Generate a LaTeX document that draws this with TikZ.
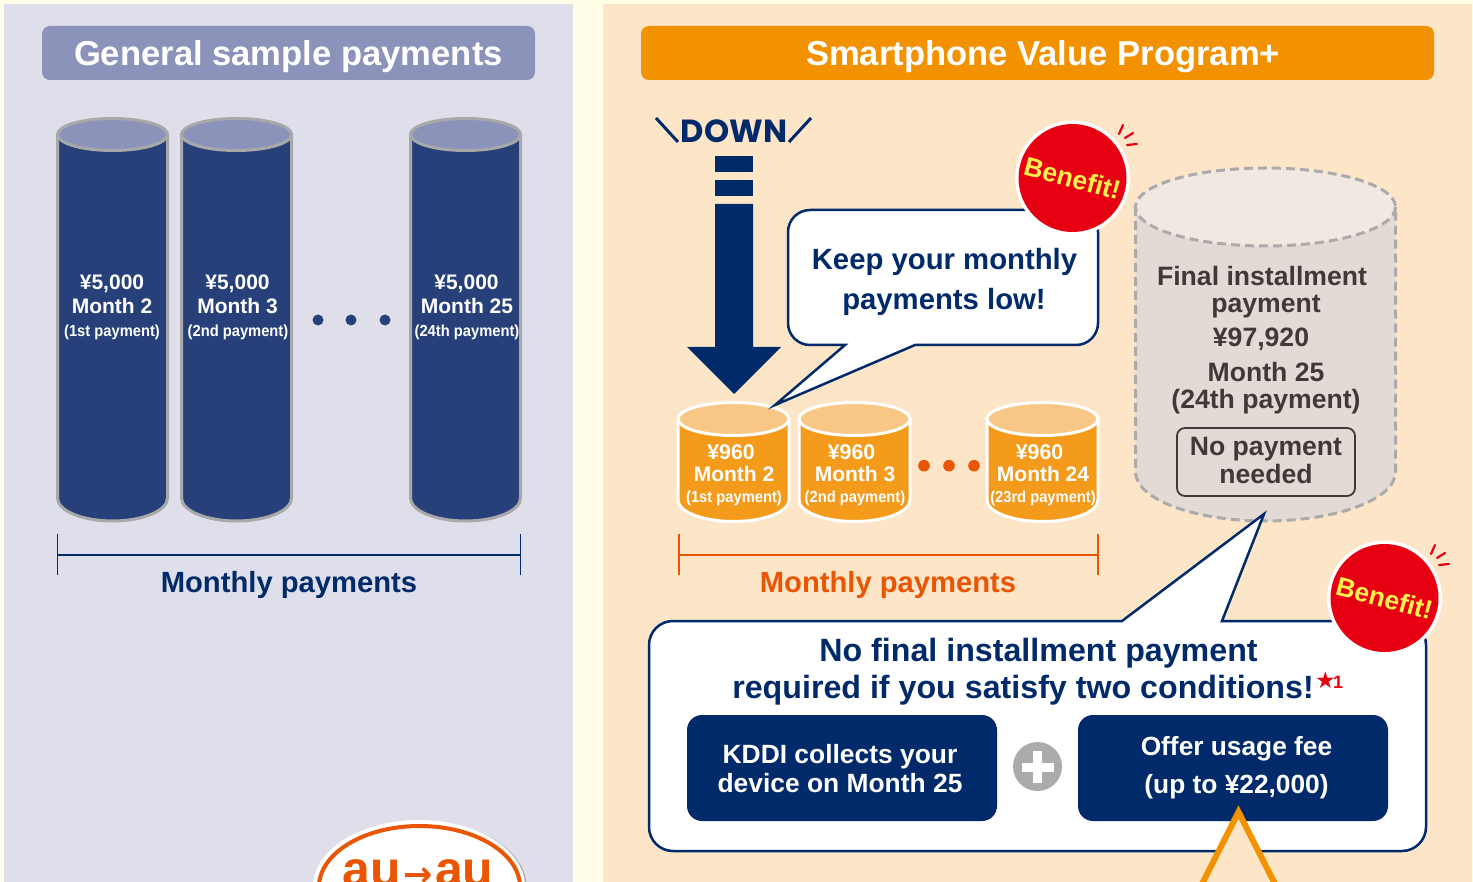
\documentclass[tikz,border=0pt]{standalone}
\usepackage{fontspec}
\setmainfont{Liberation Sans}[BoldFont={Liberation Sans Bold}]
\newfontfamily\downfont{Poppins}[BoldFont={* Bold}]
\newfontfamily\symfont{DejaVu Sans}
\newcommand\fsz[1]{\fontsize{#1}{#1}\selectfont\bfseries}
\newcommand\narrowtxt[1]{\scalebox{0.92}[1]{\fsz{16}#1}}
\definecolor{pagebg}{HTML}{FFFDE6}
\definecolor{leftbg}{HTML}{DEDFEB}
\definecolor{rightbg}{HTML}{FDE5C8}
\definecolor{slate}{HTML}{8C93BA}
\definecolor{ora}{HTML}{F39200}
\definecolor{navy}{HTML}{002A69}
\definecolor{cylblue}{HTML}{27407A}
\definecolor{cylgrey}{HTML}{A8A8A8}
\definecolor{cylora}{HTML}{F49B1C}
\definecolor{cylorat}{HTML}{F9C785}
\definecolor{deep}{HTML}{EA5504}
\definecolor{tone}{HTML}{E3DAD5}
\definecolor{tonet}{HTML}{F1E8E2}
\definecolor{ink}{HTML}{40393A}
\definecolor{benred}{HTML}{E60012}
\definecolor{benyel}{HTML}{FFF04D}
\definecolor{plusgrey}{HTML}{ABABAB}
\tikzset{
  lbl/.style={inner sep=0pt,outer sep=0pt,anchor=base,align=center},
  wlbl/.style={lbl,text=white},
  titlebox/.style={rounded corners=8pt,inner sep=0pt},
  bluebody/.style={fill=cylblue,draw=cylgrey,line width=3pt},
  bluetop/.style={fill=slate,draw=cylgrey,line width=3pt},
  orabody/.style={fill=cylora,draw=white,line width=3pt},
  oratop/.style={fill=cylorat,draw=white,line width=3pt},
  greybody/.style={fill=tone,draw=plusgrey,line width=3pt,dash pattern=on 9pt off 5pt},
  greytop/.style={fill=tonet,draw=plusgrey,line width=3pt,dash pattern=on 9pt off 5pt},
  callout/.style={fill=white,draw=navy,line width=2.5pt,miter limit=20},
  navybox/.style={fill=navy,rounded corners=15pt},
  tick/.style={draw=benred,line width=2.2pt,line cap=round},
}
% x1 x2 ytop ybottom rytop rybottom bodystyle topstyle
\newcommand\drawcyl[8]{%
  \pgfmathsetmacro\cyla{(#2-#1)/2}%
  \pgfmathsetmacro\cylc{(#1+#2)/2}%
  \path[#7] (#1,#3) -- (#1,#4) arc[start angle=180,end angle=0,x radius=\cyla,y radius=#6] -- (#2,#3) -- cycle;
  \path[#8] (\cylc,#3) ellipse[x radius=\cyla,y radius=#5];
}
\newcommand\benefit[3]{%
  \path[fill=white] (#1,#2) circle[radius=57.5];
  \path[fill=benred] (#1,#2) circle[radius=54];
  \node[lbl,anchor=center,text=benyel,rotate=-15] (#3) at (#1,#2) {\fsz{26.5}Benefit!};
  \draw[tick] ($(#1,#2)+(46.5,-44)$) -- ++(4,-9);
  \draw[tick] ($(#1,#2)+(52.5,-40)$) -- ++(8,-5);
  \draw[tick] ($(#1,#2)+(54.5,-33)$) -- ++(10,-1);
}
\usetikzlibrary{calc}
\begin{document}
\begin{tikzpicture}[x=1pt,y=-1pt]
\useasboundingbox (0,0) rectangle (1473,882);
\clip (0,0) rectangle (1473,882);
\fill[pagebg] (0,0) rectangle (1473,882);
\fill[leftbg] (4,4) rectangle (573,882);
\fill[rightbg] (603,4) rectangle (1472,882);

% titles
\fill[slate,titlebox] (42,26) rectangle (535,80);
\node[wlbl] (t1) at (288.5,66) {\fsz{34.6}General sample payments};
\fill[ora,titlebox] (641,26) rectangle (1434,80);
\node[wlbl] (t2) at (1043,66) {\fsz{34.6}Smartphone Value Program+};

% left cylinders
\drawcyl{57.5}{167.5}{134.5}{498}{16}{23}{bluebody}{bluetop}
\drawcyl{181.5}{291.5}{134.5}{498}{16}{23}{bluebody}{bluetop}
\drawcyl{410.5}{520.5}{134.5}{498}{16}{23}{bluebody}{bluetop}
\node[wlbl] (a1) at (112,290) {\fsz{21}¥5,000};
\node[wlbl] (a2) at (112,314) {\fsz{21}Month 2};
\node[wlbl] (a3) at (112,337) {\narrowtxt{(1st payment)}};
\node[wlbl] (b1) at (237.5,290) {\fsz{21}¥5,000};
\node[wlbl] (b2) at (237.5,314) {\fsz{21}Month 3};
\node[wlbl] (b3) at (238,337) {\narrowtxt{(2nd payment)}};
\node[wlbl] (c1) at (466.5,290) {\fsz{21}¥5,000};
\node[wlbl] (c2) at (467,314) {\fsz{21}Month 25};
\node[wlbl] (c3) at (467,337) {\narrowtxt{(24th payment)}};
\foreach \dx in {318,351,385} \fill[cylblue] (\dx,320) circle[radius=5.5];

% left bracket
\coordinate (la) at (57.5,555); \coordinate (lb) at (520.5,555);
\draw[navy,line width=1.3pt] (la) -- (lb);
\draw[navy,line width=1.3pt] ($(la)+(0,-21)$) -- ($(la)+(0,20)$);
\draw[navy,line width=1.3pt] ($(lb)+(0,-21)$) -- ($(lb)+(0,20)$);
\node[lbl,text=navy] (lm) at (289,592) {\fsz{29.2}Monthly payments};

% au logo
\path[fill=plusgrey] (421.5,887) ellipse[x radius=105,y radius=66];
\path[fill=white] (419,887) ellipse[x radius=106,y radius=67];
\path[draw=deep,fill=white,line width=4pt] (419.5,887) ellipse[x radius=100.5,y radius=61];
\node[lbl,text=deep] (au) at (418,886) {\fsz{50}au\kern2.5pt{\symfont\fontsize{35}{35}\selectfont →}\kern2.5pt au};

% DOWN
\node[lbl,text=navy] (dw) at (734,143) {\downfont\fsz{32}DOWN};
\draw[navy,line width=3pt] (656,118) -- (678,142);
\draw[navy,line width=3pt] (811,118) -- (789,142);
\fill[navy] (715,156) rectangle (753,172);
\fill[navy] (715,180) rectangle (753,196);
\fill[navy] (715,204) -- (753,204) -- (753,347) -- (781,347) -- (734,394) -- (687,347) -- (715,347) -- cycle;

% orange cylinders
\drawcyl{678}{789}{419}{500}{16.5}{21.5}{orabody}{oratop}
\drawcyl{799}{910}{419}{500}{16.5}{21.5}{orabody}{oratop}
\drawcyl{987}{1098}{419}{500}{16.5}{21.5}{orabody}{oratop}
\node[wlbl] (d1) at (731,460) {\fsz{21.3}¥960};
\node[wlbl] (d2) at (734,481.5) {\fsz{21}Month 2};
\node[wlbl] (d3) at (734,502) {\narrowtxt{(1st payment)}};
\node[wlbl] (e1) at (851.5,460) {\fsz{21.3}¥960};
\node[wlbl] (e2) at (855,481.5) {\fsz{21}Month 3};
\node[wlbl] (e3) at (855,502) {\narrowtxt{(2nd payment)}};
\node[wlbl] (f1) at (1039.5,460) {\fsz{21.3}¥960};
\node[wlbl] (f2) at (1043,481.5) {\fsz{21}Month 24};
\node[wlbl] (f3) at (1043,502) {\narrowtxt{(23rd payment)}};
\foreach \dx in {924,949,974} \fill[deep] (\dx,465.7) circle[radius=5.8];

% right bracket
\coordinate (ra) at (679,555); \coordinate (rb) at (1098,555);
\draw[deep,line width=1.3pt] (ra) -- (rb);
\draw[deep,line width=1.3pt] ($(ra)+(0,-21)$) -- ($(ra)+(0,20)$);
\draw[deep,line width=1.3pt] ($(rb)+(0,-21)$) -- ($(rb)+(0,20)$);
\node[lbl,text=deep] (rm) at (888,592) {\fsz{29.2}Monthly payments};

% grey cylinder
\drawcyl{1135.5}{1395.5}{207}{472}{39}{49}{greybody}{greytop}
\node[lbl,text=ink] (g1) at (1262,286) {\fsz{26.6}Final installment};
\node[lbl,text=ink] (g2) at (1266,313) {\fsz{26.6}payment};
\node[lbl,text=ink] (g3) at (1261,347) {\fsz{26.6}¥97,920};
\node[lbl,text=ink] (g4) at (1266,382) {\fsz{26.6}Month 25};
\node[lbl,text=ink] (g5) at (1266,409) {\fsz{26.6}(24th payment)};
\draw[ink,line width=1.8pt,rounded corners=8pt] (1177,428) rectangle (1355,496);
\node[lbl,text=ink] (g6) at (1266,456) {\fsz{26.6}No payment};
\node[lbl,text=ink] (g7) at (1266,483) {\fsz{26.6}needed};

% callout 1
\path[callout] (915,345) [rounded corners=22pt] -- (1098,345) -- (1098,210) -- (788,210) -- (788,345) [sharp corners] -- (845,345) -- (775,405) -- cycle;
\node[lbl,text=navy] (k1) at (944.5,270) {\fsz{29.3}Keep your monthly};
\node[lbl,text=navy] (k2) at (944,310) {\fsz{29.3}payments low!};
\benefit{1072.5}{178}{ben1}

% callout 2
\path[callout] (1222,621) [rounded corners=24pt] -- (1426,621) -- (1426,851) -- (649,851) -- (649,621) [sharp corners] -- (1122,621) -- (1264,514) -- cycle;
\node[lbl,text=navy] (n1) at (1038.5,661) {\fsz{32.2}No final installment payment};
\node[lbl,text=navy] (n2) at (1023,698) {\fsz{32.2}required if you satisfy two conditions!};
\node[lbl,text=benred,anchor=base west] (n3) at (1315,688) {{\symfont\fontsize{23}{23}\selectfont ★}\kern-2.5pt\fsz{18}1};
\benefit{1384.5}{598}{ben2}

\fill[navybox] (687,715) rectangle (997,821);
\node[wlbl] (p1) at (840,763.5) {\fsz{26.4}KDDI collects your};
\node[wlbl] (p2) at (840,792.5) {\fsz{26.4}device on Month 25};
\fill[navybox] (1078,715) rectangle (1388,821);
\node[wlbl] (q1) at (1236.5,755) {\fsz{26.3}Offer usage fee};
\node[wlbl] (q2) at (1236.5,793) {\fsz{26.3}(up to ¥22,000)};
\fill[plusgrey] (1037.5,766.5) circle[radius=24.5];
\fill[white] (1021.5,763) rectangle (1053.5,772);
\fill[white] (1033,751) rectangle (1042,783);

% orange pointer
\path[fill=rightbg,draw=ora,line width=6pt,miter limit=20] (1201,886) -- (1238.5,812) -- (1276,886);
\end{tikzpicture}
\end{document}
